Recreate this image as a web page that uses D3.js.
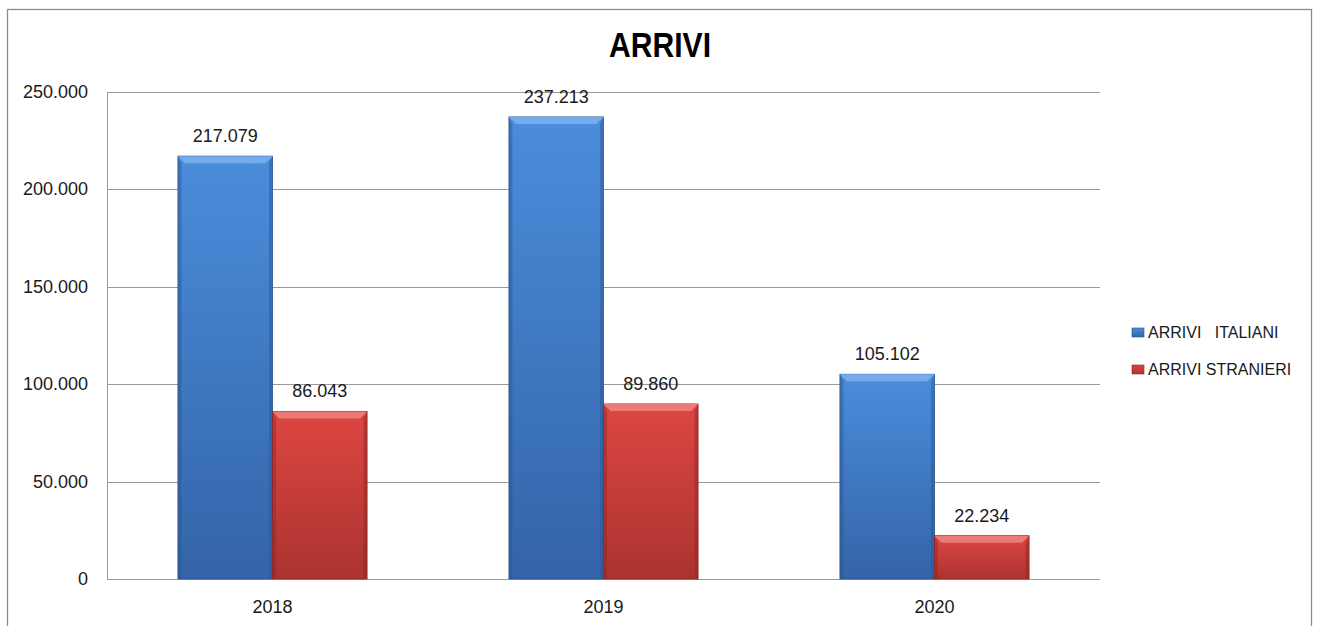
<!DOCTYPE html>
<html>
<head>
<meta charset="utf-8">
<script src="https://cdn.jsdelivr.net/npm/d3@7"></script>
<style>
  body { margin: 0; background: #fff; }
  text { font-family: "Liberation Sans", Arial, sans-serif; fill: #1a1a1a; }
</style>
</head>
<body>
<script>
const years = ["2018", "2019", "2020"];
const seriesNames = ["ARRIVI   ITALIANI", "ARRIVI STRANIERI"];
const italiani = [217079, 237213, 105102];
const stranieri = [86043, 89860, 22234];
const yTicks = [0, 50000, 100000, 150000, 200000, 250000];

const W = 1319, H = 626;
const margin = { left: 107, right: 219, top: 92, bottom: 47 };

const svg = d3.select("body").append("svg").attr("width", W).attr("height", H);

// gradients for the bevelled bars
const palette = [
  { id: "blue", top: "#4a8ddb", bottom: "#3464a8", light: "#7db3ef", dark: "#2b5590" },
  { id: "red", top: "#dd4642", bottom: "#ab3330", light: "#f08480", dark: "#8d2624" }
];
const defs = svg.append("defs");
palette.forEach(p => {
  const g = defs.append("linearGradient").attr("id", "g-" + p.id)
    .attr("x1", 0).attr("y1", 0).attr("x2", 0).attr("y2", 1);
  g.append("stop").attr("offset", "0%").attr("stop-color", p.top);
  g.append("stop").attr("offset", "100%").attr("stop-color", p.bottom);
});

// outer frame
svg.append("rect")
  .attr("x", 7.5).attr("y", 9.5).attr("width", 1304).attr("height", 640)
  .attr("fill", "none").attr("stroke", "#8c8c8c").attr("stroke-width", 1.3);

svg.append("text")
  .attr("transform", "translate(660,57) scale(0.86,1)")
  .attr("text-anchor", "middle")
  .style("font-weight", "bold")
  .style("font-size", "35px")
  .style("fill", "#000")
  .text("ARRIVI");

const x0 = d3.scaleBand().domain(years)
  .range([margin.left, W - margin.right])
  .paddingInner(0.4286).paddingOuter(0.2143);
const x1 = d3.scaleBand().domain([0, 1]).range([0, x0.bandwidth()]);
const y = d3.scaleLinear().domain([0, 250000]).range([H - margin.bottom, margin.top]);

const fmt = v => d3.format(",")(v).replace(/,/g, ".");

// gridlines
svg.append("g").selectAll("line").data(yTicks).join("line")
  .attr("x1", margin.left).attr("x2", W - margin.right)
  .attr("y1", d => Math.round(y(d)) + 0.5).attr("y2", d => Math.round(y(d)) + 0.5)
  .attr("stroke", "#9a9a9a").attr("stroke-width", 1);

// y axis line
svg.append("line")
  .attr("x1", margin.left + 0.5).attr("x2", margin.left + 0.5)
  .attr("y1", y(250000)).attr("y2", y(0))
  .attr("stroke", "#9a9a9a");

// y tick labels
svg.append("g").selectAll("text").data(yTicks).join("text")
  .attr("x", 88).attr("y", d => y(d) + 6)
  .attr("text-anchor", "end")
  .style("font-size", "18px")
  .text(d => d === 0 ? "0" : fmt(d));

// x labels
svg.append("g").selectAll("text").data(years).join("text")
  .attr("x", d => x0(d) + x0.bandwidth() / 2)
  .attr("y", 613)
  .attr("text-anchor", "middle")
  .style("font-size", "18px")
  .text(d => d);

// bars
const series = [italiani, stranieri];
const bars = [];
series.forEach((vals, si) => {
  vals.forEach((v, i) => bars.push({ si, year: years[i], value: v }));
});

const bev = 7;
const bg = svg.append("g").selectAll("g").data(bars).join("g")
  .attr("transform", d => `translate(${x0(d.year) + x1(d.si)},0)`);

bg.append("rect")
  .attr("x", 0).attr("y", d => y(d.value))
  .attr("width", x1.bandwidth()).attr("height", d => y(0) - y(d.value))
  .attr("fill", d => `url(#g-${palette[d.si].id})`)
  .attr("stroke", d => palette[d.si].dark).attr("stroke-width", 0.8);

// top bevel
bg.append("path")
  .attr("d", d => {
    const t = y(d.value), w = x1.bandwidth();
    return `M0,${t}L${w},${t}L${w - bev},${t + bev}L${bev},${t + bev}Z`;
  })
  .attr("fill", d => palette[d.si].light).attr("opacity", 0.85);

// side bevels
bg.append("path")
  .attr("d", d => {
    const t = y(d.value), b = y(0);
    return `M0,${t}L${bev * 0.5},${t + bev}L${bev * 0.5},${b}L0,${b}Z`;
  })
  .attr("fill", d => palette[d.si].dark).attr("opacity", 0.45);
bg.append("path")
  .attr("d", d => {
    const t = y(d.value), b = y(0), w = x1.bandwidth();
    return `M${w},${t}L${w - bev * 0.5},${t + bev}L${w - bev * 0.5},${b}L${w},${b}Z`;
  })
  .attr("fill", d => palette[d.si].dark).attr("opacity", 0.45);

// value labels
bg.append("text")
  .attr("x", x1.bandwidth() / 2)
  .attr("y", d => y(d.value) - 14)
  .attr("text-anchor", "middle")
  .style("font-size", "18px")
  .text(d => fmt(d.value));

// legend
const lg = svg.append("g").selectAll("g").data(seriesNames).join("g")
  .attr("transform", (d, i) => `translate(1132,${328 + i * 37})`);
lg.append("rect")
  .attr("width", 12).attr("height", 9)
  .attr("fill", (d, i) => `url(#g-${palette[i].id})`)
  .attr("stroke", (d, i) => palette[i].dark).attr("stroke-width", 0.6);
lg.append("text")
  .attr("x", 16).attr("y", 9.5)
  .style("font-size", "16px")
  .style("white-space", "pre")
  .text(d => d);
</script>
</body>
</html>
